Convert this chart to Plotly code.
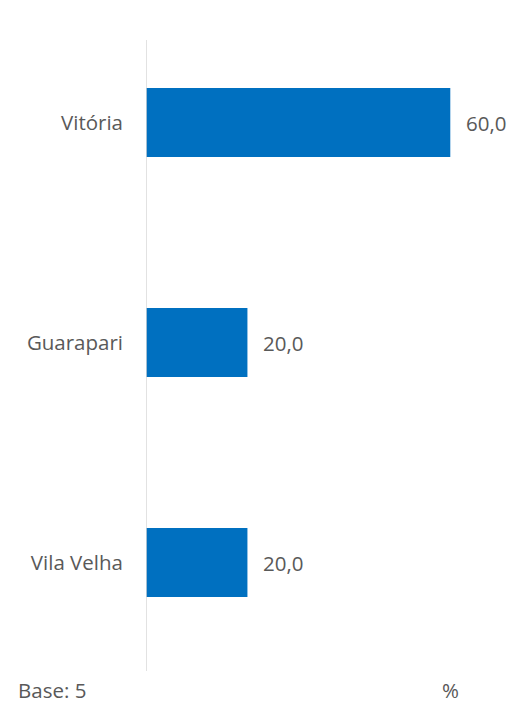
import plotly.graph_objects as go

categories = ["Vila Velha", "Guarapari", "Vitória"]
values = [20.0, 20.0, 60.0]
value_labels = ["20,0", "20,0", "60,0"]
base_note = "Base: 5"
unit_note = "%"

FONT = "Open Sans"
TXT = "#595959"
FS = 20.5

fig = go.Figure()
fig.add_trace(go.Bar(
    y=categories, x=values, orientation="h",
    marker=dict(color="#0070C0", line=dict(width=0)),
    width=0.3136, hoverinfo="skip",
))

for c, v, t in zip(categories, values, value_labels):
    fig.add_annotation(x=v, y=c, text=t, showarrow=False, xanchor="left",
                       xshift=14, font=dict(family=FONT, size=FS, color=TXT))

fig.add_annotation(x=16, y=690, xref="paper", yref="paper", text=base_note,
                   showarrow=False, xanchor="left", yanchor="middle",
                   font=dict(family=FONT, size=FS, color=TXT))
fig.add_annotation(x=60, y=690, xref="x", yref="paper", text=unit_note,
                   showarrow=False, xanchor="center", yanchor="middle",
                   font=dict(family=FONT, size=FS, color=TXT))

# axis line
fig.add_shape(type="line", xref="x", yref="paper", x0=0, x1=0, y0=0, y1=1,
              line=dict(color="#D9D9D9", width=1.5))

W, H = 514, 704
L, R, T, B = 146, 12.5, 40, 33
fig.update_layout(
    width=W, height=H,
    margin=dict(l=L, r=R, t=T, b=B),
    paper_bgcolor="white", plot_bgcolor="white",
    showlegend=False,
    xaxis=dict(range=[0, 70], visible=False, fixedrange=True),
    yaxis=dict(range=[-0.493, 2.375], showline=False, showgrid=False,
               zeroline=False, ticks="", ticklabelstandoff=22,
               tickfont=dict(family=FONT, size=FS, color=TXT)),
)

plot_h = H - T - B
for a in fig.layout.annotations:
    if a.yref == "paper":
        a.y = (H - B - a.y) / plot_h
    if a.xref == "paper":
        a.x = (a.x - L) / (W - L - R)

fig.write_html("out.html", config={"displayModeBar": False},
               post_script="document.body.style.margin='0';document.body.style.overflow='hidden';")
